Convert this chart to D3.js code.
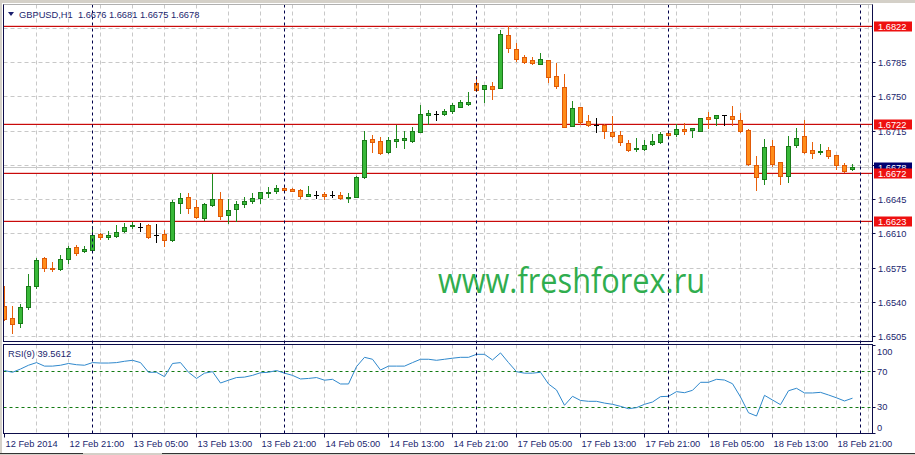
<!DOCTYPE html>
<html><head><meta charset="utf-8">
<script src="https://cdn.jsdelivr.net/npm/d3@7"></script>
<style>
body{margin:0;background:#fff;}
svg{display:block;}
text{font-family:"Liberation Sans",Arial,sans-serif;}
</style>
</head><body><div id="chart"></div>
<script>
// ---- data (GBPUSD H1, 12 Feb 2014 13:00 .. 18 Feb 2014 23:00) ----
const opens=[1.6536,1.6523,1.6518,1.6535,1.6556,1.6585,1.6575,1.6573,1.6584,1.6596,1.6592,1.6593,1.6609,1.6606,1.6607,1.6612,1.6617,1.6616,1.6618,1.6608,1.6609,1.6603,1.6641,1.6647,1.6637,1.6626,1.6639,1.6645,1.6629,1.6635,1.6640,1.6643,1.6646,1.6651,1.6653,1.6656,1.6655,1.6654,1.6648,1.6649,1.6650,1.6649,1.6649,1.6646,1.6647,1.6667,1.6706,1.6704,1.6693,1.6704,1.6705,1.6704,1.6713,1.6731,1.6732,1.6732,1.6735,1.6739,1.6742,1.6764,1.6757,1.6760,1.6758,1.6813,1.6798,1.6790,1.6787,1.6783,1.6787,1.6771,1.6759,1.6720,1.6739,1.6725,1.6721,1.6721,1.6713,1.6710,1.6702,1.6696,1.6696,1.6701,1.6703,1.6712,1.6711,1.6717,1.6716,1.6715,1.6729,1.6728,1.6731,1.6730,1.6726,1.6716,1.6680,1.6665,1.6699,1.6683,1.6669,1.6700,1.6709,1.6695,1.6693,1.6695,1.6690,1.6680,1.6676];
const highs=[1.6556,1.6536,1.6538,1.6568,1.6585,1.6586,1.6581,1.6588,1.6597,1.6598,1.6597,1.6617,1.6610,1.6612,1.6618,1.6620,1.6621,1.6620,1.6619,1.6619,1.6613,1.6644,1.6651,1.6651,1.6644,1.6641,1.6671,1.6652,1.6645,1.6643,1.6647,1.6651,1.6652,1.6657,1.6659,1.6659,1.6656,1.6655,1.6658,1.6653,1.6652,1.6653,1.6652,1.6651,1.6668,1.6714,1.6710,1.6708,1.6708,1.6721,1.6714,1.6719,1.6741,1.6736,1.6735,1.6737,1.6743,1.6746,1.6754,1.6771,1.6761,1.6765,1.6818,1.6822,1.6804,1.6792,1.6790,1.6794,1.6787,1.6784,1.6773,1.6745,1.6739,1.6731,1.6728,1.6722,1.6730,1.6714,1.6705,1.6707,1.6705,1.6711,1.6713,1.6712,1.6722,1.6723,1.6718,1.6728,1.6734,1.6731,1.6731,1.6740,1.6733,1.6717,1.6689,1.6706,1.6705,1.6683,1.6709,1.6718,1.6726,1.6703,1.6701,1.6698,1.6690,1.6682,1.6681];
const lows=[1.6521,1.6508,1.6514,1.6533,1.6554,1.6571,1.6571,1.6572,1.6580,1.6588,1.6591,1.6592,1.6604,1.6604,1.6606,1.6611,1.6615,1.6612,1.6605,1.6601,1.6597,1.6602,1.6631,1.6631,1.6626,1.6624,1.6638,1.6625,1.6620,1.6623,1.6637,1.6641,1.6641,1.6647,1.6651,1.6653,1.6653,1.6646,1.6648,1.6646,1.6645,1.6647,1.6645,1.6642,1.6647,1.6666,1.6693,1.6691,1.6692,1.6698,1.6697,1.6703,1.6713,1.6722,1.6726,1.6731,1.6733,1.6739,1.6741,1.6755,1.6744,1.6747,1.6758,1.6795,1.6786,1.6784,1.6783,1.6783,1.6765,1.6758,1.6719,1.6720,1.6722,1.6720,1.6713,1.6707,1.6708,1.6700,1.6694,1.6694,1.6695,1.6700,1.6702,1.6708,1.6709,1.6711,1.6708,1.6714,1.6718,1.6721,1.6721,1.6721,1.6713,1.6680,1.6654,1.6660,1.6679,1.6660,1.6662,1.6698,1.6692,1.6687,1.6691,1.6687,1.6676,1.6673,1.6675];
const closes=[1.6522,1.6517,1.6535,1.6556,1.6583,1.6574,1.6574,1.6584,1.6595,1.6590,1.6594,1.6608,1.6606,1.6608,1.6611,1.6616,1.6618,1.6616,1.6606,1.6608,1.6603,1.6642,1.6646,1.6636,1.6627,1.6640,1.6645,1.6628,1.6634,1.6640,1.6643,1.6646,1.6652,1.6652,1.6656,1.6654,1.6653,1.6648,1.6650,1.6649,1.6648,1.6649,1.6646,1.6647,1.6667,1.6705,1.6703,1.6692,1.6705,1.6706,1.6707,1.6714,1.6732,1.6733,1.6732,1.6735,1.6741,1.6744,1.6744,1.6756,1.6761,1.6757,1.6814,1.6799,1.6788,1.6785,1.6784,1.6788,1.6770,1.6760,1.6719,1.6738,1.6724,1.6721,1.6721,1.6714,1.6709,1.6703,1.6695,1.6697,1.6700,1.6704,1.6711,1.6710,1.6717,1.6715,1.6718,1.6728,1.6727,1.6731,1.6731,1.6727,1.6715,1.6681,1.6667,1.6698,1.6681,1.6668,1.6699,1.6707,1.6693,1.6692,1.6694,1.6689,1.6680,1.6674,1.6678];
const rsiValues=[71,69,72.7,77,80,76,76,77,79,77.6,77,80,79.5,79.5,80,81.5,82.6,80,69,69,64,79,80,69,62,68,69.7,56.8,60,63,63.5,65.5,68.5,69,71,68,65.5,61.4,62,63,60,61,55.7,55.7,75.4,86,83.8,71.6,76,76,76,80,83.8,83.8,82.6,83.8,85,86,86,89.4,89.4,83,91,80,69.7,68,68,69,55.7,48.9,31.5,41.7,37,36,36,34,32.6,30.3,27.6,28.8,32.6,35.2,41.3,41.7,47,45.8,48.5,57.6,57.6,61,60.2,56,40.9,23,19.3,42.8,37.5,32.2,48,50.8,45.5,45.5,46.2,43.2,40,36.4,39.56];
const timeLabels=["12 Feb 2014","12 Feb 21:00","13 Feb 05:00","13 Feb 13:00","13 Feb 21:00","14 Feb 05:00","14 Feb 13:00","14 Feb 21:00","17 Feb 05:00","17 Feb 13:00","17 Feb 21:00","18 Feb 05:00","18 Feb 13:00","18 Feb 21:00"];
const timeLabelBars=[0,8,16,24,32,40,48,56,64,72,80,88,96,104];
const dayStartBars=[11,35,59,83,107];
const priceTicks=[1.6505,1.6540,1.6575,1.6610,1.6645,1.6680,1.6715,1.6750,1.6785,1.6820];
const levels=[1.6822,1.6722,1.6672,1.6623];
const rsiTicks=[100,70,30,0];
const rsiLevels=[70,30];
const header="GBPUSD,H1  1.6676 1.6681 1.6675 1.6678";
const rsiLabel="RSI(9) 39.5612";
const lastPrice=1.6678;

// ---- layout ----
const W=915,H=455;
const L=3.5,R=872.5,mainTop=4.5,mainBot=341.5,rsiTop=344.5,rsiBot=433.5;
const navy="#1b1f6e", frame="#0d0d4a";

const svg=d3.select("#chart").append("svg").attr("width",W).attr("height",H);
svg.append("rect").attr("width",W).attr("height",H).attr("fill","#fff");
// window chrome
svg.append("rect").attr("x",0).attr("y",0).attr("width",W).attr("height",3).attr("fill","#d4d0c8");
svg.append("rect").attr("x",0).attr("y",0).attr("width",2).attr("height",H).attr("fill","#d4d0c8");
svg.append("rect").attr("x",0).attr("y",453).attr("width",W).attr("height",2).attr("fill","#d4d0c8");
svg.append("line").attr("x1",0).attr("x2",83).attr("y1",453.5).attr("y2",453.5).attr("stroke","#333");
svg.append("line").attr("x1",162).attr("x2",W).attr("y1",453.5).attr("y2",453.5).attr("stroke","#333");

const n=opens.length;
const x=d3.scaleLinear().domain([0,106]).range([4.5,852.5]);
const y=d3.scaleLinear().domain([1.6505,1.6785]).range([336,62]);
const yr=d3.scaleLinear().domain([0,100]).range([433,345]);
const cr=v=>Math.round(v)+0.5;

const defs=svg.append("defs");
defs.append("clipPath").attr("id","cm").append("rect").attr("x",L).attr("y",mainTop).attr("width",R-L).attr("height",mainBot-mainTop);
defs.append("clipPath").attr("id","cr").append("rect").attr("x",L).attr("y",rsiTop).attr("width",R-L).attr("height",rsiBot-rsiTop);

const gMain=svg.append("g").attr("clip-path","url(#cm)");
const gRsi=svg.append("g").attr("clip-path","url(#cr)");

// grid
const vGrid=d3.range(4,109,4);
[[gMain,mainTop,mainBot],[gRsi,rsiTop,rsiBot]].forEach(([g,t,b])=>{
  g.selectAll(".vg").data(vGrid).enter().append("line")
   .attr("x1",d=>x(d)).attr("x2",d=>x(d)).attr("y1",t).attr("y2",b)
   .attr("stroke","#c8c8c8").attr("stroke-dasharray","4,3");
});
gMain.selectAll(".hg").data(priceTicks).enter().append("line")
  .attr("x1",L).attr("x2",R).attr("y1",d=>cr(y(d))).attr("y2",d=>cr(y(d)))
  .attr("stroke","#c8c8c8").attr("stroke-dasharray","4,3");
gRsi.selectAll(".rl").data(rsiLevels).enter().append("line")
  .attr("x1",L).attr("x2",R).attr("y1",d=>cr(yr(d))).attr("y2",d=>cr(yr(d)))
  .attr("stroke","#137a13").attr("stroke-dasharray","3,3");

// day separators
svg.selectAll(".ds").data(dayStartBars).enter().append("line")
  .attr("x1",d=>x(d)).attr("x2",d=>x(d)).attr("y1",mainTop).attr("y2",rsiBot)
  .attr("stroke","#00004a").attr("stroke-dasharray","3,3");

// bid line
gMain.append("line").attr("x1",L).attr("x2",R).attr("y1",cr(y(lastPrice))).attr("y2",cr(y(lastPrice))).attr("stroke","#c8c8c8");

// level lines (dark red with soft pink halo)
gMain.selectAll(".lvh").data(levels).enter().append("line")
  .attr("x1",L).attr("x2",R).attr("y1",d=>cr(y(d))-1).attr("y2",d=>cr(y(d))-1)
  .attr("stroke","#f6caca");
gMain.selectAll(".lv").data(levels).enter().append("line")
  .attr("x1",L).attr("x2",R).attr("y1",d=>cr(y(d))).attr("y2",d=>cr(y(d)))
  .attr("stroke","#c80a0a");

// watermark
svg.append("text").attr("x",438).attr("y",293).text("www.freshforex.ru")
  .attr("fill","#30ad4e").style("font-family","'Open Sans','Noto Sans',sans-serif").attr("font-size",34)
  .attr("textLength",267).attr("lengthAdjust","spacingAndGlyphs");

// candles
const bars=d3.range(n).map(i=>({i,o:opens[i],h:highs[i],l:lows[i],c:closes[i]}));
const col=d=>d.c>d.o?"bull":(d.c<d.o?"bear":"doji");
const wickCol={bull:"#1f8a1f",bear:"#e8600a",doji:"#000"};
const fillCol={bull:"#38b838",bear:"#ff8c1a"};
const strokeCol={bull:"#197a19",bear:"#e05a08"};
const cg=gMain.selectAll(".c").data(bars).enter().append("g");
cg.append("line").attr("x1",d=>x(d.i)).attr("x2",d=>x(d.i))
  .attr("y1",d=>Math.round(y(d.h))).attr("y2",d=>Math.round(y(d.l))+1)
  .attr("stroke",d=>wickCol[col(d)]);
cg.filter(d=>col(d)!=="doji").append("rect")
  .attr("x",d=>x(d.i)-2).attr("width",4)
  .attr("y",d=>cr(y(Math.max(d.o,d.c))))
  .attr("height",d=>Math.max(1,Math.round(y(Math.min(d.o,d.c)))-Math.round(y(Math.max(d.o,d.c)))))
  .attr("fill",d=>fillCol[col(d)]).attr("stroke",d=>strokeCol[col(d)]);
cg.filter(d=>col(d)==="doji").append("line")
  .attr("x1",d=>x(d.i)-2.5).attr("x2",d=>x(d.i)+2.5)
  .attr("y1",d=>cr(y(d.o))).attr("y2",d=>cr(y(d.o))).attr("stroke","#000");

// rsi line
gRsi.append("path").datum(rsiValues)
  .attr("d",d3.line().x((d,i)=>x(i)).y(d=>yr(d)))
  .attr("fill","none").attr("stroke","#2f88cc").attr("stroke-width",1);

// frames
svg.append("rect").attr("x",L).attr("y",mainTop).attr("width",R-L).attr("height",mainBot-mainTop).attr("fill","none").attr("stroke",frame);
svg.append("line").attr("x1",L).attr("x2",R).attr("y1",mainTop).attr("y2",mainTop).attr("stroke","#b0b0b0");
svg.append("rect").attr("x",L).attr("y",rsiTop).attr("width",R-L).attr("height",rsiBot-rsiTop).attr("fill","none").attr("stroke",frame);

// header
svg.append("path").attr("d","M8,12 L14,12 L11,16 Z").attr("fill",navy);
svg.append("text").attr("x",19).attr("y",18).text(header).attr("fill",navy).attr("font-size",9.3).style("white-space","pre");
svg.append("text").attr("x",8).attr("y",357).text(rsiLabel).attr("fill",navy).attr("font-size",9.3);

// price axis
const axG=svg.append("g");
axG.selectAll(".pt").data(priceTicks.filter(p=>p<1.682)).enter().append("g").each(function(p){
  const g=d3.select(this), yy=cr(y(p));
  g.append("line").attr("x1",R).attr("x2",R+3).attr("y1",yy).attr("y2",yy).attr("stroke",frame);
  g.append("text").attr("x",878).attr("y",yy+3.3).text(p.toFixed(4)).attr("fill",navy).attr("font-size",9.3);
});
// last price label
(function(){
  const yy=cr(y(lastPrice));
  axG.append("rect").attr("x",874).attr("y",yy-5).attr("width",38).attr("height",10).attr("fill","#000070");
  axG.append("text").attr("x",878).attr("y",yy+3.3).text(lastPrice.toFixed(4)).attr("fill","#fff").attr("font-size",9.3);
})();
axG.selectAll(".lvl").data(levels).enter().append("g").each(function(p){
  const g=d3.select(this), yy=cr(y(p));
  g.append("rect").attr("x",874).attr("y",yy-5).attr("width",38).attr("height",10).attr("fill","#ee1010");
  g.append("text").attr("x",878).attr("y",yy+3.3).text(p.toFixed(4)).attr("fill","#fff").attr("font-size",9.3);
});
// rsi axis
const rsiLabY={100:351.5,70:371.5,30:406.5,0:427.5};
svg.selectAll(".rt").data(rsiTicks).enter().append("g").each(function(v){
  const g=d3.select(this), yy=cr(yr(v));
  g.append("line").attr("x1",R).attr("x2",R+3).attr("y1",yy).attr("y2",yy).attr("stroke",frame);
  g.append("text").attr("x",877).attr("y",rsiLabY[v]+3.3).text(v).attr("fill",navy).attr("font-size",9.3);
});

// time axis
svg.selectAll(".tl").data(timeLabelBars).enter().append("g").each(function(b,k){
  const g=d3.select(this), xx=Math.round(x(b))-0.5;
  g.append("line").attr("x1",xx).attr("x2",xx).attr("y1",rsiBot).attr("y2",rsiBot+4).attr("stroke",frame);
  g.append("text").attr("x",xx+1).attr("y",447).text(timeLabels[k]).attr("fill",navy).attr("font-size",9.3);
});
</script></body></html>
